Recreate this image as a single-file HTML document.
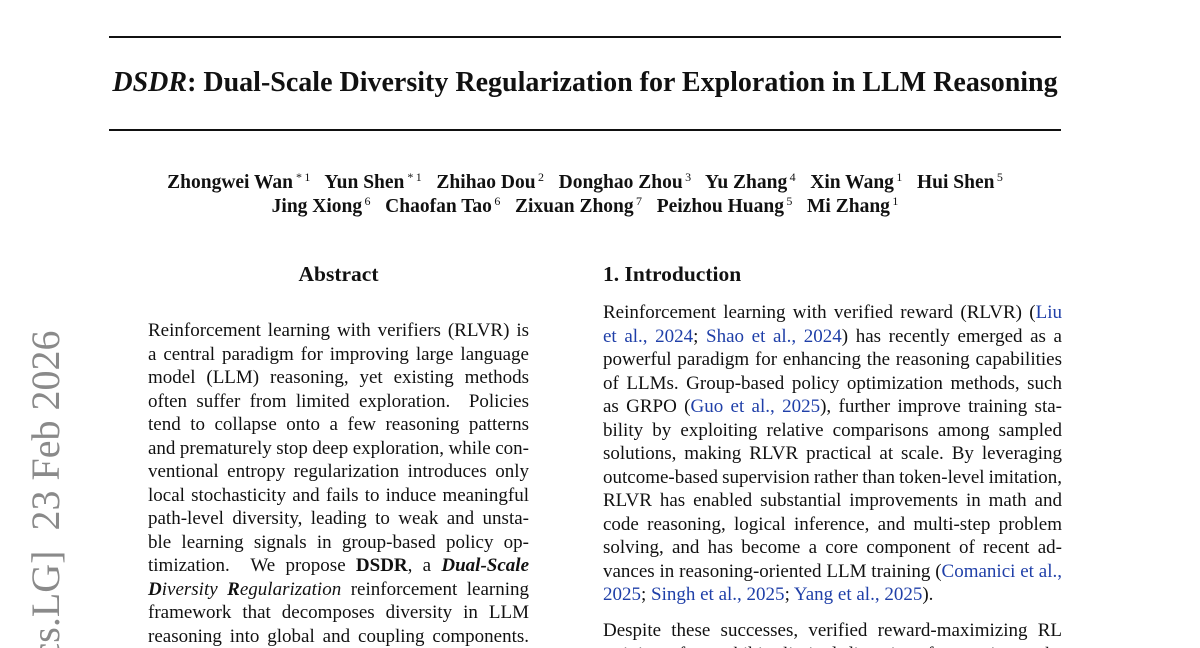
<!DOCTYPE html>
<html><head><meta charset="utf-8"><style>
html,body{margin:0;padding:0;background:#fff;width:1200px;height:648px;overflow:hidden;}
#w{width:1200px;height:648px;position:relative;overflow:hidden;font-family:"Liberation Serif",serif;color:#111;}
.rule{position:absolute;left:109px;width:952px;height:2px;background:#111;}
.t{position:absolute;white-space:nowrap;}
.l{position:absolute;font-size:19px;line-height:21px;text-align:justify;text-align-last:justify;white-space:nowrap;word-spacing:-1px;}
.L{left:148px;width:381px;}
.R{left:603px;width:459px;}
a,.c{color:#1f3fa8;text-decoration:none;}
sup{font-size:12px;font-weight:normal;vertical-align:7px;line-height:0;}
.side{position:absolute;left:48px;top:648px;transform-origin:0 0;transform:rotate(-90deg) translate(-378px,-26px);font-size:40px;color:#8a8a8a;white-space:nowrap;font-family:"Liberation Serif",serif;}
</style></head><body><div id="w">
<div class="rule" style="top:36px"></div>
<div class="rule" style="top:129px"></div>
<div class="t" style="left:80px;width:1010px;top:67px;text-align:center;font-size:28px;font-weight:bold;"><i>DSDR</i>: Dual-Scale Diversity Regularization for Exploration in LLM Reasoning</div>
<div class="t" style="left:80px;width:1010px;top:172px;text-align:center;font-size:19.5px;font-weight:bold;">Zhongwei Wan<sup>&nbsp;*&thinsp;1</sup>&nbsp;&nbsp; Yun Shen<sup>&nbsp;*&thinsp;1</sup>&nbsp;&nbsp; Zhihao Dou<sup>&thinsp;2</sup>&nbsp;&nbsp; Donghao Zhou<sup>&thinsp;3</sup>&nbsp;&nbsp; Yu Zhang<sup>&thinsp;4</sup>&nbsp;&nbsp; Xin Wang<sup>&thinsp;1</sup>&nbsp;&nbsp; Hui Shen<sup>&thinsp;5</sup></div>
<div class="t" style="left:80px;width:1010px;top:196px;text-align:center;font-size:19.5px;font-weight:bold;">Jing Xiong<sup>&thinsp;6</sup>&nbsp;&nbsp; Chaofan Tao<sup>&thinsp;6</sup>&nbsp;&nbsp; Zixuan Zhong<sup>&thinsp;7</sup>&nbsp;&nbsp; Peizhou Huang<sup>&thinsp;5</sup>&nbsp;&nbsp; Mi Zhang<sup>&thinsp;1</sup></div>

<div class="t" style="left:148px;width:381px;top:262px;text-align:center;font-size:21.5px;font-weight:bold;">Abstract</div>
<div class="t" style="left:603px;top:262px;font-size:21.5px;font-weight:bold;">1. Introduction</div>

<div class="l L" style="top:320px">Reinforcement learning with verifiers (RLVR) is</div>
<div class="l L" style="top:344px">a central paradigm for improving large language</div>
<div class="l L" style="top:367px">model (LLM) reasoning, yet existing methods</div>
<div class="l L" style="top:391px">often suffer from limited exploration. &nbsp;Policies</div>
<div class="l L" style="top:414px">tend to collapse onto a few reasoning patterns</div>
<div class="l L" style="top:438px">and prematurely stop deep exploration, while con-</div>
<div class="l L" style="top:461px">ventional entropy regularization introduces only</div>
<div class="l L" style="top:485px">local stochasticity and fails to induce meaningful</div>
<div class="l L" style="top:508px">path-level diversity, leading to weak and unsta-</div>
<div class="l L" style="top:532px">ble learning signals in group-based policy op-</div>
<div class="l L" style="top:555px">timization. &nbsp;We propose <b>DSDR</b>, a <b><i>Dual-Scale</i></b></div>
<div class="l L" style="top:579px"><b><i>D</i></b><i>iversity</i> <b><i>R</i></b><i>egularization</i> reinforcement learning</div>
<div class="l L" style="top:602px">framework that decomposes diversity in LLM</div>
<div class="l L" style="top:626px">reasoning into global and coupling components.</div>

<div class="l R" style="top:302px">Reinforcement learning with verified reward (RLVR) (<a>Liu</a></div>
<div class="l R" style="top:326px"><a>et al., 2024</a>; <a>Shao et al., 2024</a>) has recently emerged as a</div>
<div class="l R" style="top:349px">powerful paradigm for enhancing the reasoning capabilities</div>
<div class="l R" style="top:373px">of LLMs. Group-based policy optimization methods, such</div>
<div class="l R" style="top:396px">as GRPO (<a>Guo et al., 2025</a>), further improve training sta-</div>
<div class="l R" style="top:420px">bility by exploiting relative comparisons among sampled</div>
<div class="l R" style="top:443px">solutions, making RLVR practical at scale. By leveraging</div>
<div class="l R" style="top:467px">outcome-based supervision rather than token-level imitation,</div>
<div class="l R" style="top:490px">RLVR has enabled substantial improvements in math and</div>
<div class="l R" style="top:514px">code reasoning, logical inference, and multi-step problem</div>
<div class="l R" style="top:537px">solving, and has become a core component of recent ad-</div>
<div class="l R" style="top:561px">vances in reasoning-oriented LLM training (<a>Comanici et al.,</a></div>
<div class="l R" style="top:584px;text-align-last:left;word-spacing:0"><a>2025</a>; <a>Singh et al., 2025</a>; <a>Yang et al., 2025</a>).</div>
<div class="l R" style="top:620px">Despite these successes, verified reward-maximizing RL</div>
<div class="l R" style="top:644px">training often exhibits limited diversity of reasoning paths</div>

<div class="side">arXiv:2602.17421v1&nbsp; [cs.LG]&nbsp; 23 Feb 2026</div>
</div></body></html>
